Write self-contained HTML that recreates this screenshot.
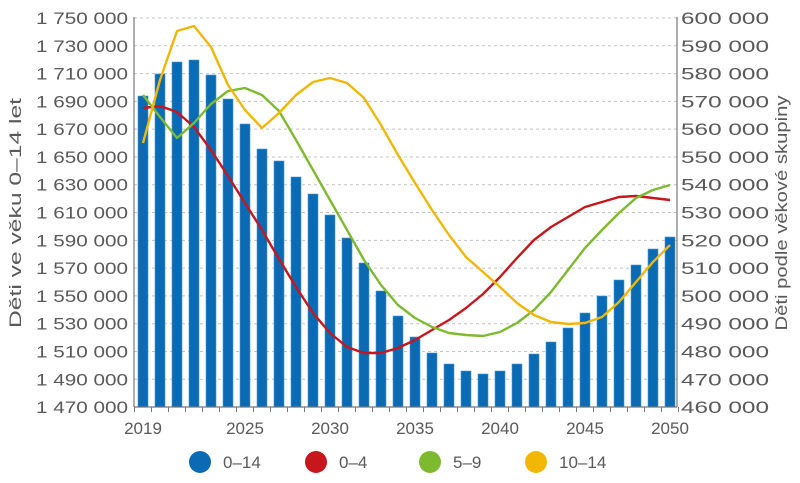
<!DOCTYPE html>
<html><head><meta charset="utf-8"><style>
body{margin:0;background:#fff;}
svg text{font-family:"Liberation Sans",sans-serif;fill:#5a5a5a;font-size:17px;}
</style></head><body>
<svg width="800" height="478" viewBox="0 0 800 478" xmlns="http://www.w3.org/2000/svg">
<g id="grid" stroke="#c4c4c4" stroke-width="1" stroke-dasharray="3,3"></g>
<g id="bars" fill="#0a6ab4" stroke="#4a9ad6" stroke-width="0.6"></g>
<line x1="134" y1="17" x2="134" y2="407" stroke="#777" stroke-width="1.2"/>
<line x1="677" y1="17" x2="677" y2="407" stroke="#777" stroke-width="1.2"/>
<line x1="134" y1="407" x2="677" y2="407" stroke="#777" stroke-width="1.2"/>
<g id="ticks" stroke="#777" stroke-width="1"></g>
<g id="lines" fill="none" stroke-width="2.4" stroke-linejoin="round"></g>
<g id="lt" text-anchor="end"></g>
<g id="rt" text-anchor="start"></g>
<g id="xt" text-anchor="middle"></g>
<text transform="translate(21,213) rotate(-90)" text-anchor="middle" textLength="230" lengthAdjust="spacingAndGlyphs">Děti ve věku 0–14 let</text>
<text transform="translate(787,213) rotate(-90)" text-anchor="middle" textLength="235" lengthAdjust="spacingAndGlyphs">Děti podle věkové skupiny</text>
<circle cx="200" cy="462" r="11" fill="#0a6ab4"/><text x="223" y="468">0–14</text>
<circle cx="316" cy="462" r="11" fill="#c8161d"/><text x="339" y="468">0–4</text>
<circle cx="430" cy="462" r="11" fill="#7dba2f"/><text x="453" y="468">5–9</text>
<circle cx="536" cy="462" r="11" fill="#f2b705"/><text x="559" y="468">10–14</text>
</svg>
<script>
const ns="http://www.w3.org/2000/svg";
const X=y=>143+(y-2019)*17;
const el=(p,tag,at)=>{const e=document.createElementNS(ns,tag);for(const k in at)e.setAttribute(k,at[k]);p.appendChild(e);return e;};
const g=document.getElementById('grid');
for(let i=0;i<14;i++){const y=18+i*27.79;el(g,'line',{x1:134,x2:677,y1:y,y2:y});}
const tk=document.getElementById('ticks');
for(let i=0;i<=32;i++){const x=X(2019)-8.5+i*17;el(tk,'line',{x1:x,x2:x,y1:407,y2:412});}
const tops=[96,74,62,60,75,99,124,149,161,177,194,215,238,263,291,316,337,353,364,371,374,371,364,354,342,328,313,296,280,265,249,237];
const b=document.getElementById('bars');
tops.forEach((t,i)=>el(b,'rect',{x:X(2019+i)-5,y:t,width:10,height:407-t}));
const series={
"#c8161d":[108,106,112,127,150,176,203,230,259,287,313,333,347,353,353,348,340,330,320,308,294,277,258,240,227,217,207,202,197,196,198,200],
"#7dba2f":[95,117,138,123,104,91,88,95,111,140,170,200,230,260,285,305,318,327,333,335,336,332,323,310,292,270,248,230,213,198,190,185],
"#f2b705":[143,80,31,26,47,85,110,128,113,95,82,78,83,98,125,155,183,210,235,257,272,287,303,315,322,324,323,317,302,282,262,245]};
const l=document.getElementById('lines');
for(const c in series)el(l,'polyline',{points:series[c].map((v,i)=>X(2019+i)+','+v).join(' '),stroke:c});
const lt=document.getElementById('lt'),rt=document.getElementById('rt'),xt=document.getElementById('xt');
for(let i=0;i<15;i++){const y=18+i*27.79;
 const v=1750000-i*20000;
 el(lt,'text',{x:128,y:y+6,textLength:92,lengthAdjust:'spacingAndGlyphs'}).textContent=String(Math.floor(v/1000000))+' '+String(Math.floor(v/1000)%1000).padStart(3,'0')+' 000';
 el(rt,'text',{x:681,y:y+6,textLength:88,lengthAdjust:'spacingAndGlyphs'}).textContent=(600-i*10)+' 000';}
[2019,2025,2030,2035,2040,2045,2050].forEach(y=>{el(xt,'text',{x:X(y),y:434}).textContent=y;});
</script>
</body></html>
